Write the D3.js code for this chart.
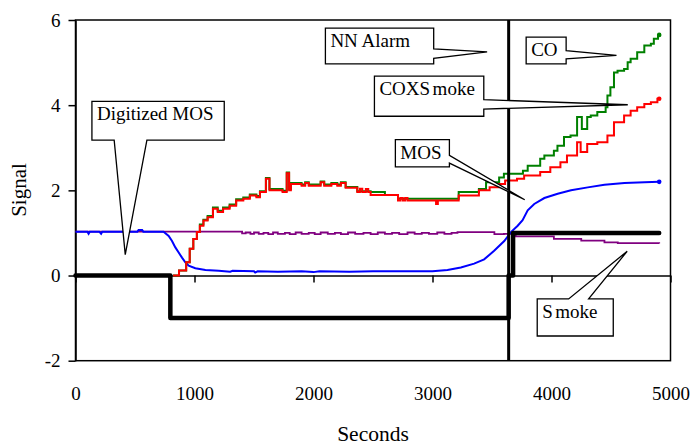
<!DOCTYPE html>
<html><head><meta charset="utf-8">
<script src="https://cdn.jsdelivr.net/npm/d3@7"></script>
<style>
body{margin:0;background:#fff}
svg text{font-family:"Liberation Serif","Times New Roman",serif;fill:#000}
</style>
</head><body>
<svg id="chart" width="693" height="446" font-family="Liberation Serif"></svg>
<script>
// ---------- data ----------
const xTicks = [0, 1000, 2000, 3000, 4000, 5000];
const yTicks = [-2, 0, 2, 4, 6];
const alarmTime = 3640;

// Digitized MOS (step)
const digitizedMOS = [[0,0],[797,-1],[3640,0],[3677,1],[4905,1]];

// CO (green, step)
const coSeries = [[820,0],[870,0.12],[930,0.31],[960,0.63],[990,0.86],[1020,1.02],[1045,1.2],[1075,1.31],[1110,1.4],[1155,1.6],[1195,1.52],[1240,1.6],[1295,1.67],[1350,1.79],[1410,1.83],[1465,1.9],[1520,1.87],[1550,1.98],[1600,2.29],[1630,2.03],[1740,1.99],[1775,2.42],[1795,2.03],[1810,2.17],[1900,2.14],[1930,2.19],[1960,2.14],[2060,2.21],[2090,2.14],[2150,2.17],[2200,2.14],[2230,2.19],[2270,2.08],[2368,1.98],[2480,1.96],[2600,1.89],[2710,1.8],[3030,1.8],[3220,1.96],[3390,2.03],[3450,2.19],[3560,2.3],[3600,2.39],[3760,2.46],[3800,2.58],[3905,2.74],[3940,2.82],[4020,2.93],[4050,3.05],[4105,3.25],[4160,3.29],[4215,3.72],[4255,3.44],[4300,3.72],[4330,3.76],[4385,3.84],[4455,3.95],[4470,4.23],[4495,4.42],[4525,4.77],[4555,4.81],[4610,4.85],[4640,5.01],[4665,5.09],[4720,5.24],[4780,5.4],[4835,5.44],[4860,5.56],[4895,5.65],[4905,5.65]];

// COXSmoke (red, step)
const coxSmokeSeries = [[820,0],[870,0.12],[930,0.31],[960,0.63],[990,0.86],[1020,1.02],[1045,1.17],[1075,1.29],[1110,1.37],[1155,1.57],[1195,1.49],[1240,1.57],[1295,1.64],[1350,1.76],[1410,1.8],[1465,1.88],[1520,1.84],[1550,1.96],[1600,2.27],[1630,2.0],[1740,1.96],[1775,2.4],[1795,2.0],[1810,2.15],[1900,2.11],[1930,2.17],[1960,2.11],[2060,2.19],[2090,2.11],[2150,2.15],[2200,2.11],[2230,2.17],[2270,2.06],[2368,1.96],[2390,2.04],[2410,1.96],[2440,2.03],[2460,1.96],[2480,1.89],[2710,1.76],[2730,1.82],[2750,1.76],[2770,1.82],[2790,1.76],[3030,1.68],[3045,1.76],[3220,1.88],[3390,2.0],[3480,2.07],[3560,2.15],[3610,2.23],[3710,2.27],[3770,2.35],[3905,2.43],[3990,2.54],[4075,2.66],[4130,2.82],[4215,3.13],[4245,2.9],[4300,3.09],[4385,3.13],[4470,3.29],[4525,3.6],[4610,3.76],[4665,3.87],[4720,3.95],[4780,4.03],[4835,4.07],[4890,4.15],[4905,4.15]];

// MOS (blue)
const mosSeries = [[0,1.03],[100,1.03],[110,0.98],[120,1.03],[200,1.03],[215,0.98],[225,1.03],[520,1.03],[530,1.07],[560,1.07],[570,1.03],[740,1.03],[783,0.93],[811,0.81],[839,0.66],[867,0.54],[895,0.42],[923,0.31],[951,0.23],[1007,0.17],[1092,0.13],[1204,0.11],[1300,0.09],[1320,0.11],[1500,0.1],[1510,0.07],[1530,0.1],[1700,0.09],[1900,0.1],[2000,0.08],[2050,0.1],[2300,0.09],[2500,0.1],[3000,0.1],[3126,0.13],[3238,0.19],[3350,0.28],[3434,0.38],[3518,0.58],[3603,0.81],[3659,1.02],[3716,1.17],[3757,1.3],[3800,1.53],[3855,1.68],[3940,1.82],[4052,1.92],[4164,2.0],[4305,2.07],[4445,2.13],[4613,2.17],[4782,2.19],[4905,2.2]];

// Smoke (purple, step)
const smokeSeries = [[0,1.03],[1390,1.03],[1400,0.99],[1430,1.01],[1470,0.98],[1500,1.01],[1540,0.98],[1580,1.0],[1620,0.97],[1660,1.01],[1700,0.98],[1760,1.0],[1800,0.97],[1850,1.01],[1900,0.98],[1960,1.0],[2010,0.97],[2060,1.01],[2120,0.98],[2180,1.0],[2230,0.97],[2290,1.01],[2350,0.98],[2420,1.0],[2480,0.97],[2540,1.01],[2600,0.98],[2660,1.0],[2720,0.97],[2790,1.01],[2850,0.98],[2910,1.0],[2970,0.98],[3040,1.01],[3100,0.98],[3160,1.0],[3210,1.02],[3520,0.97],[3600,0.98],[3700,0.92],[4020,0.86],[4250,0.82],[4445,0.78],[4557,0.76],[4905,0.75]];

// callout annotations in data coordinates
const callouts = [
  {label:"Digitized MOS", split:0, box:[138,1250,4.09,3.18], side:"bottom", base:[325,600], tip:[418,0.49]},
  {label:"NN Alarm", split:0, box:[2100,3010,5.81,4.97], side:"right", base:[5.32,5.10], tip:[3459,5.25]},
  {label:"CO", split:0, box:[3787,4123,5.60,4.97], side:"right", base:[5.28,5.09], tip:[4546,5.17]},
  {label:"COXSmoke", split:4, box:[2512,3431,4.68,3.74], side:"right", base:[4.13,3.91], tip:[4641,4.01]},
  {label:"MOS", split:0, box:[2688,3142,3.19,2.55], side:"right", base:[2.82,2.64], tip:[3775,1.78]},
  {label:"Smoke", split:1, box:[3880,4519,-0.55,-1.42], side:"top", base:[4144,4312], tip:[4636,0.57]}
];

// ---------- chart ----------
const svg = d3.select("#chart");
const x = d3.scaleLinear().domain([0,5000]).range([75.5,670.5]);
const y = d3.scaleLinear().domain([-2,6]).range([360.7,20]);
const FONT = "Liberation Serif";

// frame
svg.append("rect").attr("x",x(0)).attr("y",y(6)).attr("width",x(5000)-x(0)).attr("height",y(-2)-y(6))
  .attr("fill","none").attr("stroke","#000").attr("stroke-width",1.5);

// y axis
const yAxis = svg.append("g").attr("transform",`translate(${x(0)},0)`)
  .call(d3.axisLeft(y).tickValues(yTicks).tickFormat(d=>String(d)).tickSize(7).tickPadding(8).tickSizeOuter(0));
yAxis.attr("font-family",FONT).attr("font-size",19);
yAxis.selectAll("line,path").attr("stroke","#000").attr("stroke-width",1.5);

// x axis on the zero line, labels below plot
const xAxis = svg.append("g").attr("transform",`translate(0,${y(0)})`)
  .call(d3.axisBottom(x).tickValues(xTicks).tickFormat(d=>String(d)).tickSize(7).tickPadding(104).tickSizeOuter(0));
xAxis.attr("font-family",FONT).attr("font-size",19);
xAxis.selectAll("line,path").attr("stroke","#000").attr("stroke-width",1.5);

// axis titles
svg.append("text").attr("x",373).attr("y",441).attr("text-anchor","middle")
  .attr("font-family",FONT).attr("font-size",21.5).text("Seconds");
svg.append("text").attr("transform","translate(26,190) rotate(-90)").attr("text-anchor","middle")
  .attr("font-family",FONT).attr("font-size",21).text("Signal");

// series
const stepLine = d3.line().x(d=>x(d[0])).y(d=>y(d[1])).curve(d3.curveStepAfter);
const linLine = d3.line().x(d=>x(d[0])).y(d=>y(d[1]));

svg.append("path").datum(smokeSeries).attr("d",stepLine).attr("fill","none").attr("stroke","#800080").attr("stroke-width",1.8);
svg.append("path").datum(mosSeries).attr("d",linLine).attr("fill","none").attr("stroke","#0000ff").attr("stroke-width",2);
svg.append("path").datum(coSeries).attr("d",stepLine).attr("fill","none").attr("stroke","#008000").attr("stroke-width",2);
svg.append("path").datum(coxSmokeSeries).attr("d",stepLine).attr("fill","none").attr("stroke","#ff0000").attr("stroke-width",2);

// end markers
[[coSeries,"#008000"],[coxSmokeSeries,"#ff0000"],[mosSeries,"#0000ff"]].forEach(([s,c])=>{
  const d = s[s.length-1];
  svg.append("circle").attr("cx",x(d[0])).attr("cy",y(d[1])).attr("r",2.3).attr("fill",c);
});

svg.append("path").datum(digitizedMOS).attr("d",stepLine).attr("fill","none").attr("stroke","#000")
  .attr("stroke-width",4.5).attr("stroke-linejoin","round").attr("stroke-linecap","round");

// NN alarm line
svg.append("line").attr("x1",x(alarmTime)).attr("x2",x(alarmTime)).attr("y1",y(6)).attr("y2",y(-2))
  .attr("stroke","#000").attr("stroke-width",3);

// callouts
callouts.forEach(c=>{
  const x0=x(c.box[0]), x1=x(c.box[1]), y0=y(c.box[2]), y1=y(c.box[3]);
  const tx=x(c.tip[0]), ty=y(c.tip[1]);
  let d;
  if(c.side==="bottom"){
    const bl=x(c.base[0]), br=x(c.base[1]);
    d=`M${x0},${y0}H${x1}V${y1}H${br}L${tx},${ty}L${bl},${y1}H${x0}Z`;
  } else if(c.side==="right"){
    const bt=y(c.base[0]), bb=y(c.base[1]);
    d=`M${x0},${y0}H${x1}V${bt}L${tx},${ty}L${x1},${bb}V${y1}H${x0}Z`;
  } else {
    const bl=x(c.base[0]), br=x(c.base[1]);
    d=`M${x0},${y0}H${bl}L${tx},${ty}L${br},${y0}H${x1}V${y1}H${x0}Z`;
  }
  svg.append("path").attr("d",d).attr("fill","#fff").attr("stroke","#000").attr("stroke-width",1.3).attr("stroke-linejoin","miter");
  const t = svg.append("text").attr("x",x0+5).attr("y",y0+19).attr("font-family",FONT).attr("font-size",19);
  if(c.split>0){
    t.append("tspan").text(c.label.slice(0,c.split));
    t.append("tspan").attr("dx",2.5).text(c.label.slice(c.split));
  } else t.text(c.label);
});
</script>
</body></html>
